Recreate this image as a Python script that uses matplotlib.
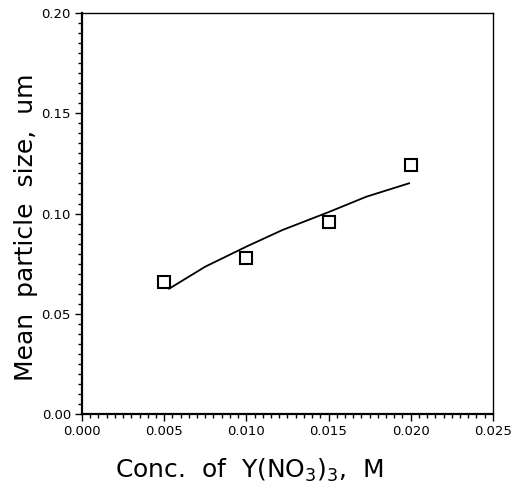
import matplotlib
matplotlib.use("Agg")
import matplotlib.pyplot as plt
from matplotlib.ticker import MultipleLocator, FormatStrFormatter

plt.rcParams['font.family'] = ['DejaVu Sans']
plt.rcParams['mathtext.fontset'] = 'dejavusans'

conc = [0.005, 0.010, 0.015, 0.020]
size = [0.066, 0.078, 0.096, 0.124]

fit_x = [0.0053, 0.0075, 0.0100, 0.0122, 0.0150, 0.0173, 0.0199]
fit_y = [0.0625, 0.0735, 0.0835, 0.0918, 0.1007, 0.1084, 0.1151]

fig = plt.figure(figsize=(5.11, 4.87), dpi=100)
ax = fig.add_axes([0.1605, 0.150, 0.804, 0.823])

ax.plot(fit_x, fit_y, color='black', lw=1.3)
ax.plot(conc, size, linestyle='none', marker='s', markersize=8.5,
        markerfacecolor='white', markeredgecolor='black', markeredgewidth=1.5)

ax.set_xlim(0, 0.025)
ax.set_ylim(0, 0.20)
ax.xaxis.set_major_locator(MultipleLocator(0.005))
ax.xaxis.set_minor_locator(MultipleLocator(0.0005))
ax.yaxis.set_major_locator(MultipleLocator(0.05))
ax.yaxis.set_minor_locator(MultipleLocator(0.005))
ax.xaxis.set_major_formatter(FormatStrFormatter('%.3f'))
ax.yaxis.set_major_formatter(FormatStrFormatter('%.2f'))

ax.tick_params(which='both', direction='out', top=False, right=False,
               labelsize=9.5, width=1.0)
ax.tick_params(which='major', length=5, pad=3)
ax.tick_params(which='minor', length=3)

ax.spines['left'].set_linewidth(1.6)
ax.spines['bottom'].set_linewidth(1.6)
ax.spines['top'].set_linewidth(1.0)
ax.spines['right'].set_linewidth(1.0)

ax.set_xlabel(r'Conc.  of  Y(NO$_3$)$_3$,  M', fontsize=18)
ax.set_ylabel('Mean  particle  size,  um', fontsize=18)
ax.xaxis.set_label_coords(0.406, -0.108)
ax.yaxis.set_label_coords(-0.107, 0.466)

fig.savefig('out.png', dpi=100)
